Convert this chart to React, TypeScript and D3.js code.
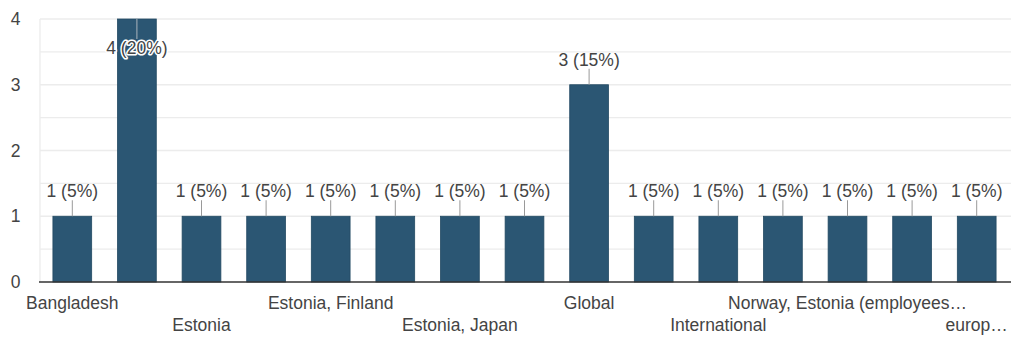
import React from "react";
import * as d3 from "d3";

const categories = [
  "Bangladesh",
  "EU",
  "Estonia",
  "Estonia, Denmark",
  "Estonia, Finland",
  "Estonia, Germany",
  "Estonia, Japan",
  "Finland",
  "Global",
  "Global, Estonia",
  "International",
  "Latvia",
  "Norway, Estonia (employees…",
  "Remote",
  "europ…",
];
const counts = [1, 4, 1, 1, 1, 1, 1, 1, 3, 1, 1, 1, 1, 1, 1];
const yTicks = [0, 1, 2, 3, 4];
const gridTicks = [0.5, 1, 1.5, 2, 2.5, 3, 3.5, 4];

const W = 1011;
const H = 338;
const FONT = "'Liberation Sans', Arial, sans-serif";
const FS = 17.5;

export default function App() {
  const total = d3.sum(counts);
  const x = d3
    .scaleBand<string>()
    .domain(categories)
    .range([40, 1009])
    .paddingInner(0.4)
    .paddingOuter(0.2);
  const y = d3.scaleLinear().domain([0, 4]).range([282, 19]);

  return (
    <svg
      width={W}
      height={H}
      style={{ position: "absolute", left: 0, top: 0, background: "#fff" }}
      fontFamily={FONT}
    >
      {gridTicks.map((t) => (
        <line key={t} x1={40} x2={1011} y1={y(t)} y2={y(t)} stroke="#ececec" strokeWidth={1.3} />
      ))}
      <line x1={40} x2={40} y1={y(4)} y2={y(0)} stroke="#ececec" strokeWidth={1.3} />
      {yTicks.map((t) => (
        <text key={t} x={20.5} y={y(t)} dy="0.35em" textAnchor="end" fontSize={FS} fill="#444">
          {t}
        </text>
      ))}
      {categories.map((c, i) => {
        const cx = (x(c) as number) + x.bandwidth() / 2;
        const top = y(counts[i]);
        const label = `${counts[i]} (${Math.round((counts[i] / total) * 100)}%)`;
        const inside = top - 19 - 13 < 0;
        const baseY = inside ? top + 35 : top - 19;
        return (
          <g key={c}>
            <rect
              x={x(c)}
              y={top}
              width={x.bandwidth()}
              height={y(0) - top}
              fill="#2b5673"
              stroke="#234a63"
              strokeWidth={0.8}
            />
            <line
              x1={cx}
              x2={cx}
              y1={inside ? top : baseY + 3}
              y2={inside ? baseY - 15 : top}
              stroke={inside ? "#aab4bc" : "#999"}
              strokeWidth={1}
            />
            <text
              x={cx}
              y={baseY}
              textAnchor="middle"
              fontSize={FS}
              fill="#444"
              stroke={inside ? "#fff" : "none"}
              strokeWidth={inside ? 3 : 0}
              paintOrder="stroke"
              strokeLinejoin="round"
            >
              {label}
            </text>
          </g>
        );
      })}
      <line x1={39} x2={1011} y1={y(0)} y2={y(0)} stroke="#333" strokeWidth={1.5} />
      {categories.map((c, i) => {
        if (i % 2 !== 0) return null;
        const cx = (x(c) as number) + x.bandwidth() / 2;
        const row = (i / 2) % 2;
        return (
          <text key={c} x={cx} y={row === 0 ? 309 : 331} textAnchor="middle" fontSize={FS} fill="#444">
            {c}
          </text>
        );
      })}
    </svg>
  );
}
